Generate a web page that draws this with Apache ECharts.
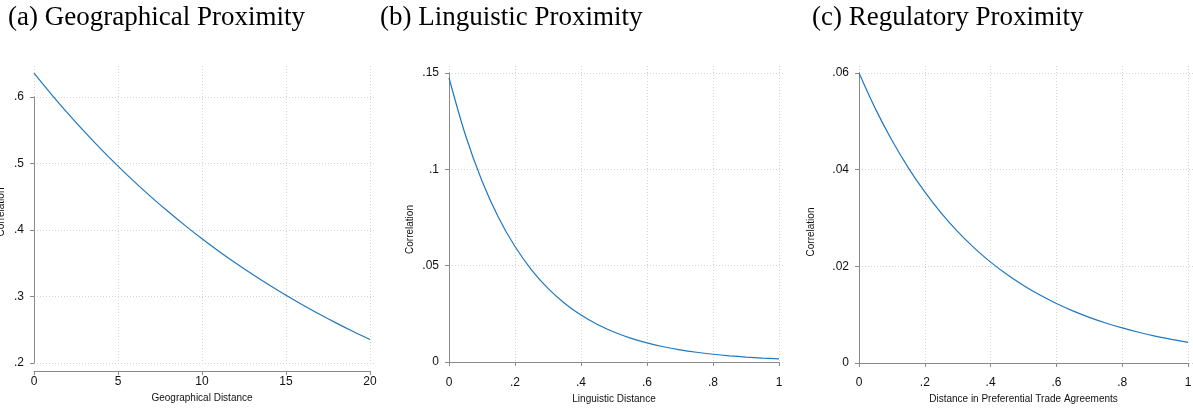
<!DOCTYPE html>
<html lang="en">
<head>
    <meta charset="UTF-8">
    <title>Proximity and correlation</title>
    <script src="https://cdn.jsdelivr.net/npm/echarts@6/dist/echarts.min.js"></script>
    <style>
        html, body { margin: 0; padding: 0; background: #fff; }
    </style>
</head>
<body>
<div id="main" style="width: 1193px;height:417px;"></div>
<script>
    // panel titles and axis titles
    var panelTitles = ['(a) Geographical Proximity', '(b) Linguistic Proximity', '(c) Regulatory Proximity'];
    var xNames = ['Geographical Distance', 'Linguistic Distance', 'Distance in Preferential Trade Agreements'];
    var yName = 'Correlation';

    // (a) geographical distance
    var geoX = [0, 1, 2, 3, 4, 5, 6, 7, 8, 9, 10, 11, 12, 13, 14, 15, 16, 17, 18, 19, 20];
    var geoY = [0.6360, 0.6052, 0.5758, 0.5479, 0.5213, 0.4961, 0.4720, 0.4491, 0.4274, 0.4066, 0.3869,
                0.3682, 0.3503, 0.3333, 0.3172, 0.3018, 0.2872, 0.2732, 0.2600, 0.2474, 0.2354];
    var geoXTicks = [0, 5, 10, 15, 20];
    var geoXLabels = ['0', '5', '10', '15', '20'];
    var geoYTicks = [0.2, 0.3, 0.4, 0.5, 0.6];
    var geoYLabels = ['.2', '.3', '.4', '.5', '.6'];

    // (b) linguistic distance
    var lingX = [0, 0.05, 0.1, 0.15, 0.2, 0.25, 0.3, 0.35, 0.4, 0.45, 0.5,
                 0.55, 0.6, 0.65, 0.7, 0.75, 0.8, 0.85, 0.9, 0.95, 1];
    var lingY = [0.14740, 0.11770, 0.09399, 0.07505, 0.05993, 0.04786, 0.03821, 0.03052, 0.02437, 0.01946, 0.01554,
                 0.01241, 0.00991, 0.00791, 0.00632, 0.00505, 0.00403, 0.00322, 0.00257, 0.00205, 0.00164];
    var lingXTicks = [0, 0.2, 0.4, 0.6, 0.8, 1];
    var lingXLabels = ['0', '.2', '.4', '.6', '.8', '1'];
    var lingYTicks = [0, 0.05, 0.1, 0.15];
    var lingYLabels = ['0', '.05', '.1', '.15'];

    // (c) distance in preferential trade agreements
    var regX = [0, 0.05, 0.1, 0.15, 0.2, 0.25, 0.3, 0.35, 0.4, 0.45, 0.5,
                0.55, 0.6, 0.65, 0.7, 0.75, 0.8, 0.85, 0.9, 0.95, 1];
    var regY = [0.06000, 0.05258, 0.04608, 0.04038, 0.03539, 0.03101, 0.02718, 0.02382, 0.02087, 0.01829, 0.01603,
                0.01405, 0.01231, 0.01079, 0.00945, 0.00828, 0.00726, 0.00636, 0.00557, 0.00489, 0.00428];
    var regXTicks = [0, 0.2, 0.4, 0.6, 0.8, 1];
    var regXLabels = ['0', '.2', '.4', '.6', '.8', '1'];
    var regYTicks = [0, 0.02, 0.04, 0.06];
    var regYLabels = ['0', '.02', '.04', '.06'];

    var lineColor = '#1f78c1';
    var axisColor = '#8a8a8a';
    var gridColor = '#d4d4d4';
    var textColor = '#111';
    var sansFont = "'Liberation Sans', Arial, sans-serif";

    function labelFor(ticks, labels) {
        return function (v) {
            for (var i = 0; i < ticks.length; i++) {
                if (Math.abs(ticks[i] - v) < 1e-9) return labels[i];
            }
            return '';
        };
    }

    function pairs(xs, ys) {
        return xs.map(function (x, i) { return [x, ys[i]]; });
    }

    // each panel: one grid for the Stata-style axes (tick range only), one for the plot area
    // namePad nudges the rotated y title along the axis
    var panels = [
        {x: geoX, y: geoY, xt: geoXTicks, xl: geoXLabels, yt: geoYTicks, yl: geoYLabels,
         axisBox: {left: 34, top: 97, width: 336, height: 266}, xOff: 8, yOff: 6, yGap: 22,
         namePad: [0, 0, 0, 36],
         plotBox: {left: 34, top: 66, width: 342, height: 297}},
        {x: lingX, y: lingY, xt: lingXTicks, xl: lingXLabels, yt: lingYTicks, yl: lingYLabels,
         axisBox: {left: 449, top: 73, width: 330, height: 289}, xOff: 10, yOff: 6, yGap: 28,
         namePad: [0, 24, 0, 0],
         plotBox: {left: 449, top: 66, width: 335, height: 296}},
        {x: regX, y: regY, xt: regXTicks, xl: regXLabels, yt: regYTicks, yl: regYLabels,
         axisBox: {left: 859, top: 73, width: 329, height: 290}, xOff: 9, yOff: 6, yGap: 37,
         namePad: [0, 28, 0, 0],
         plotBox: {left: 859, top: 66, width: 340, height: 297}}
    ];
    var titleLefts = [8, 380, 812];

    var grid = [], xAxis = [], yAxis = [], series = [], title = [];

    panels.forEach(function (p, k) {
        var xMin = p.xt[0], xMax = p.xt[p.xt.length - 1];
        var yMin = p.yt[0], yMax = p.yt[p.yt.length - 1];
        var xStep = p.xt[1] - p.xt[0], yStep = p.yt[1] - p.yt[0];
        var gA = grid.length;
        grid.push(Object.assign({containLabel: false, outerBoundsMode: 'none'}, p.axisBox));
        var gP = grid.length;
        grid.push(Object.assign({containLabel: false, outerBoundsMode: 'none'}, p.plotBox));

        // axes grid
        xAxis.push({
            type: 'value', gridIndex: gA, min: xMin, max: xMax, interval: xStep,
            offset: p.xOff,
            axisLine: {show: true, lineStyle: {color: axisColor, width: 1}},
            axisTick: {show: true, length: 4, lineStyle: {color: axisColor}},
            axisLabel: {show: true, margin: 5, color: textColor, fontFamily: sansFont, fontSize: 12,
                        formatter: labelFor(p.xt, p.xl)},
            splitLine: {show: false},
            name: xNames[k], nameLocation: 'middle', nameGap: 22,
            nameTextStyle: {color: textColor, fontFamily: sansFont, fontSize: 10}
        });
        yAxis.push({
            type: 'value', gridIndex: gA, min: yMin, max: yMax, interval: yStep,
            offset: p.yOff,
            axisLine: {show: true, lineStyle: {color: axisColor, width: 1}},
            axisTick: {show: true, length: 4, lineStyle: {color: axisColor}},
            axisLabel: {show: true, margin: 4, color: textColor, fontFamily: sansFont, fontSize: 12,
                        formatter: labelFor(p.yt, p.yl)},
            splitLine: {show: false},
            name: yName, nameLocation: 'middle', nameGap: p.yGap,
            nameTextStyle: {color: textColor, fontFamily: sansFont, fontSize: 10, padding: p.namePad}
        });

        // plot grid with dotted grid lines
        var pxMax = xMin + (xMax - xMin) * p.plotBox.width / p.axisBox.width;
        var pyMax = yMin + (yMax - yMin) * p.plotBox.height / p.axisBox.height;
        var dotted = {show: true, showMinLine: true, showMaxLine: false,
                      lineStyle: {color: gridColor, type: [1, 2], width: 1}};
        xAxis.push({
            type: 'value', gridIndex: gP, min: xMin, max: pxMax, interval: xStep,
            axisLine: {show: false}, axisTick: {show: false}, axisLabel: {show: false},
            splitLine: dotted
        });
        yAxis.push({
            type: 'value', gridIndex: gP, min: yMin, max: pyMax, interval: yStep,
            axisLine: {show: false}, axisTick: {show: false}, axisLabel: {show: false},
            splitLine: dotted
        });

        series.push({
            type: 'line', xAxisIndex: gP, yAxisIndex: gP,
            data: pairs(p.x, p.y), smooth: 0.3, showSymbol: false,
            lineStyle: {color: lineColor, width: 1.2}, silent: true, animation: false
        });

        title.push({
            text: panelTitles[k], left: titleLefts[k], top: 4, padding: 0,
            textStyle: {fontFamily: "'Liberation Serif', 'DejaVu Serif', serif", fontSize: 27,
                        fontWeight: 'normal', color: '#000'}
        });
    });

    var myChart = echarts.init(document.getElementById('main'));
    myChart.setOption({
        backgroundColor: '#fff',
        animation: false,
        title: title,
        grid: grid,
        xAxis: xAxis,
        yAxis: yAxis,
        series: series
    });
</script>
</body>
</html>
